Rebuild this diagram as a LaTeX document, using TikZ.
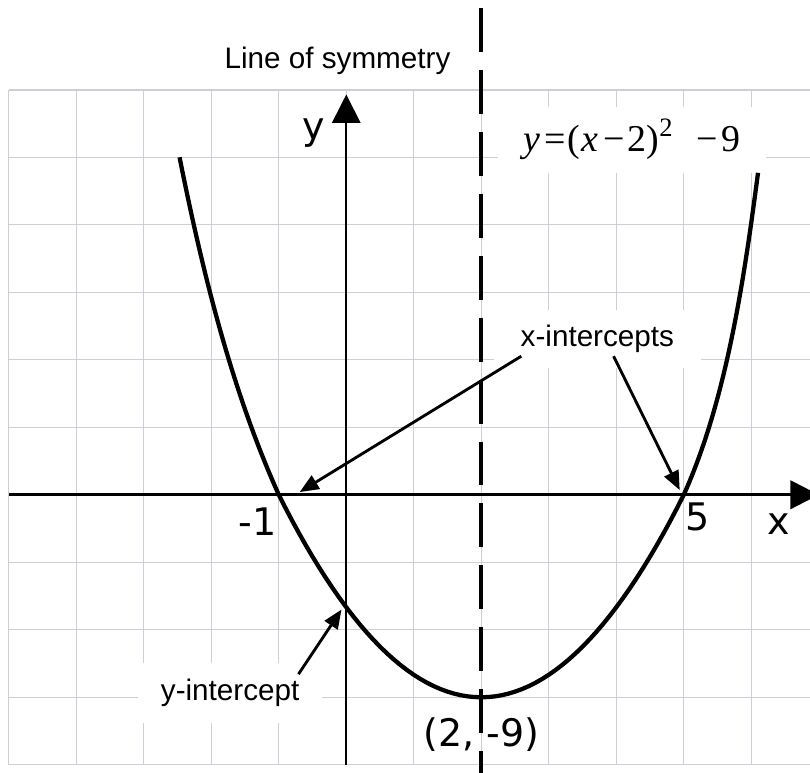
\documentclass[tikz,border=0pt]{standalone}
\usepackage{fontspec}
\usetikzlibrary{calc, arrows.meta}
\newfontfamily\lblfont{Liberation Sans}
\newfontfamily\axfont{DejaVu Sans}
\newfontfamily\eqfont{Liberation Serif}
\definecolor{gridc}{RGB}{206,206,216}

\begin{document}
\begin{tikzpicture}[
  gridline/.style={gridc, line width=0.6pt},
  txt/.style={inner sep=0pt, font=\lblfont\fontsize{12.5}{15}\selectfont},
  lbl/.style={txt, fill=white},
  axlbl/.style={font=\axfont\fontsize{16}{19}\selectfont},
  pointer/.style={line width=1.2pt, -{Triangle[length=8pt, width=6.5pt]}},
  bigtip/.style={-{Triangle[length=12pt, width=12pt]}}
]
  \useasboundingbox (-5.13,-4.12) rectangle (6.87,7.33);

  % 网格：横向一格 = 1，纵向一格 = 3
  \draw[gridline] (-5,-4) grid (6.9,6);

  \coordinate (xs) at (-5,0);
  \coordinate (xe) at (7.0,0);
  \coordinate (ys) at (0,-4);
  \coordinate (ye) at (0,5.93);
  \coordinate (Stop) at (2,7.21);
  \coordinate (Sbot) at (2,-4.2);
  \coordinate (P) at (-1,0);          % x = -1
  \coordinate (Q) at (5,0);           % x = 5
  \coordinate (Ltop) at (-2.47,5.0);
  \coordinate (Rtop) at (6.10,4.77);
  \coordinate (xa) at (-0.69,0.04);   % 指向 x = -1
  \coordinate (xb) at (4.94,0.07);    % 指向 x = 5
  \coordinate (ya) at (-0.07,-1.70);  % 指向 (0,-5)

  % 标签（白底遮住网格）
  \node[lbl, minimum width=3.98cm, minimum height=0.98cm,
        font=\eqfont\fontsize{16}{19}\selectfont] (eq) at (4.235,5.26)
    {\textit{y}\hspace{0.1em}=\hspace{0.05em}(\hspace{0.05em}\textit{x}\hspace{0.12em}−\hspace{0.08em}2)\textsuperscript{2}\hspace{0.6em}−\hspace{0.1em}9};
  \node[lbl, minimum width=3.07cm, minimum height=0.86cm] (xint) at (3.72,2.31) {x-intercepts};
  \node[lbl, minimum width=2.73cm, minimum height=0.89cm] (yint) at (-1.72,-2.93) {y-intercept};
  \node[txt] (sym) at (-0.13,6.43) {Line of symmetry};

  % 坐标轴
  \draw[line width=1.2pt, bigtip] (xs) -- (xe);
  \draw[line width=0.7pt, bigtip] (ys) -- (ye);

  % y = (x-2)^2 - 9，纵向 1 单位 = 1/3 格；两臂画得更陡
  \draw[line width=1.8pt, line join=round]
    (Ltop) .. controls (-2.15,3.4) and (-1.72,1.6) .. (P)
    -- plot[domain=-1:5, samples=61, variable=\t] ({\t},{((\t-2)^2-9)/3})
    .. controls (5.63,1.4) and (5.89,3.17) .. (Rtop);

  % 对称轴 x = 2
  \draw[line width=1.8pt, dash pattern=on 18.5pt off 7.6pt] (Stop) -- (Sbot);

  \node[axlbl] (ylab) at (-0.48,5.36) {y};
  \node[axlbl] (xlab) at (6.41,-0.44) {x};
  \node[axlbl] (m1) at (-1.31,-0.40) {-1};
  \node[axlbl] (five) at (5.21,-0.33) {5};
  \node[axlbl] (vlab) at (2,-3.56) {(2, -9)};

  \draw[pointer] ([shift={(0.415,0.18)}]xint.south west) -- (xa);
  \draw[pointer] ([shift={(0.24,0.18)}]xint.south) -- (xb);
  \draw[pointer] ([shift={(-0.36,-0.18)}]yint.north east) -- (ya);
\end{tikzpicture}
\end{document}
